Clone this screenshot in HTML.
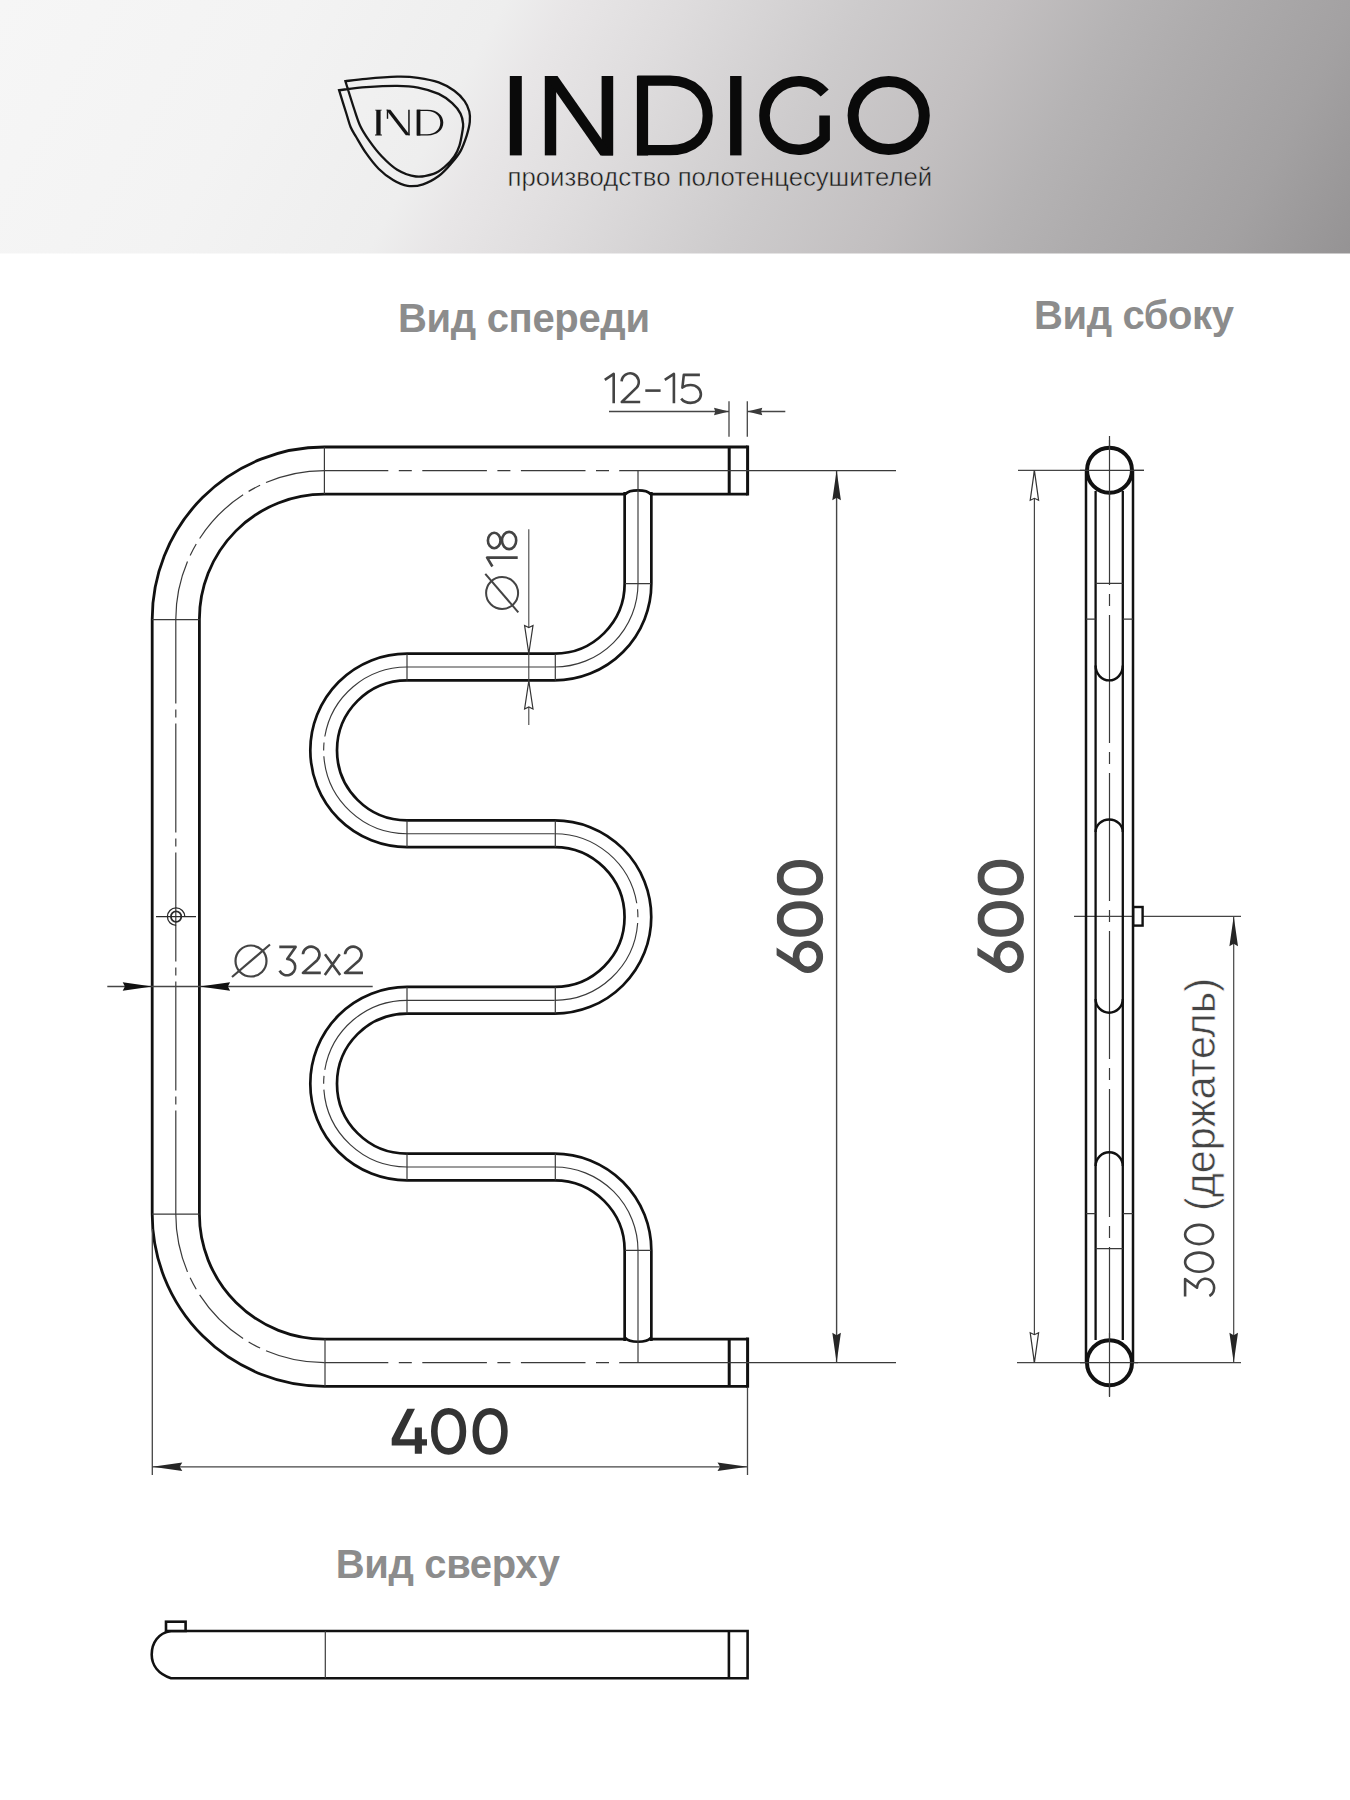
<!DOCTYPE html>
<html><head><meta charset="utf-8">
<style>
html,body{margin:0;padding:0;background:#fff;}
body{width:1350px;height:1800px;overflow:hidden;position:relative;font-family:"Liberation Sans",sans-serif;}
svg{position:absolute;left:0;top:0;display:block;}
</style></head>
<body>
<svg width="1350" height="1800" viewBox="0 0 1350 1800">
<defs>
<linearGradient id="hdr" gradientUnits="userSpaceOnUse" x1="0" y1="0" x2="1143.3" y2="628.8">
<stop offset="0" stop-color="#f6f6f6"/>
<stop offset="0.2" stop-color="#f3f3f3"/>
<stop offset="0.34" stop-color="#eeeeee"/>
<stop offset="0.383" stop-color="#e8e6e7"/>
<stop offset="0.463" stop-color="#dedcdd"/>
<stop offset="0.58" stop-color="#cdcbcc"/>
<stop offset="0.679" stop-color="#c2bfc0"/>
<stop offset="0.758" stop-color="#b5b3b4"/>
<stop offset="0.813" stop-color="#aeacad"/>
<stop offset="0.914" stop-color="#a3a1a2"/>
<stop offset="1" stop-color="#959394"/>
</linearGradient>
<linearGradient id="hdrv" x1="0" y1="0" x2="0" y2="1">
<stop offset="0" stop-color="#000" stop-opacity="0"/>
<stop offset="1" stop-color="#000" stop-opacity="0"/>
</linearGradient>
</defs>
<rect x="0" y="0" width="1350" height="253.5" fill="url(#hdr)"/>
<rect x="0" y="0" width="1350" height="253.5" fill="url(#hdrv)"/>

<g id="logo">
<g fill="none" stroke="#141414" stroke-width="2.3" stroke-linejoin="miter">
<path d="M345.4,81.2 C348.8,80.8 357.5,79.5 366.1,78.8 C374.7,78.0 388.6,76.9 397.2,76.7 C405.8,76.5 411.1,76.8 418.0,77.8 C424.9,78.8 432.6,80.2 438.7,82.4 C444.8,84.6 450.0,87.6 454.3,90.7 C458.6,93.8 462.1,97.6 464.6,101.1 C467.1,104.6 468.4,108.0 469.3,111.5 C470.2,115.0 470.2,117.9 469.8,121.9 C469.4,125.9 468.2,130.7 466.7,135.6 C465.1,140.5 463.1,146.4 460.5,151.1 C457.9,155.8 454.7,159.4 451.1,163.6 C447.5,167.8 443.4,172.6 438.7,176.0 C434.0,179.4 428.3,182.7 423.1,184.3 C417.9,186.0 412.6,186.6 407.6,185.9 C402.6,185.2 397.9,183.0 393.1,180.1 C388.3,177.2 383.1,173.2 378.6,168.7 C374.1,164.2 369.8,158.5 366.1,153.2 C362.4,147.9 358.8,141.4 356.2,137.0 C353.6,132.6 352.2,130.8 350.6,127.0 C349.0,123.2 348.4,120.1 346.5,114.0 C344.6,107.9 340.3,94.2 339.1,90.2 C343.6,89.7 356.4,87.8 366.1,87.1 C375.8,86.4 388.6,85.7 397.2,85.8 C405.8,85.9 411.1,86.2 418.0,87.6 C424.9,88.9 433.0,91.3 438.7,93.9 C444.4,96.5 448.6,99.9 452.2,103.2 C455.8,106.5 458.7,110.1 460.5,113.6 C462.3,117.0 462.8,120.8 463.1,123.9 C463.4,127.0 462.9,128.3 462.3,132.0 C461.7,135.7 460.7,141.8 459.4,145.9 C458.1,150.0 456.7,152.8 454.3,156.3 C451.9,159.8 448.4,163.8 444.9,166.7 C441.4,169.6 438.3,172.3 433.5,173.9 C428.7,175.5 421.9,177.2 415.9,176.5 C409.8,175.8 402.9,173.2 397.2,169.8 C391.5,166.4 386.4,161.2 381.7,156.3 C377.0,151.5 372.7,145.7 369.2,140.7 C365.7,135.7 362.9,131.6 360.5,126.5 C358.1,121.4 357.0,117.5 354.5,110.0 C352.0,102.5 346.9,86.0 345.4,81.2 Z"/>
</g>
<g fill="#151515">
<path d="M376.3,109.7 H380.6 V135.5 H376.3 Z M375.2,109.7 H381.7 V110.6 H375.2 Z M375.0,134.6 H381.9 V135.5 H375.0 Z"/>
<path d="M386.2,109.7 H390.4 L410.0,135.3 H405.8 Z"/>
<path d="M386.8,109.7 H388.2 V118.8 H386.8 Z"/>
<path d="M408.2,109.7 H409.7 V135.3 H408.2 Z"/>
<path d="M416.6,109.7 H420.4 V135.5 H416.6 Z"/>
<path fill-rule="evenodd" d="M417,109.7 H427.5 C437.8,109.7 443.3,115.8 443.3,122.6 C443.3,129.6 437.8,135.5 427.5,135.5 H417 Z M420,110.9 H427 C435.5,110.9 440.3,116 440.3,122.6 C440.3,129.3 435.5,134.3 427,134.3 H420 Z"/>
</g>
<g fill="#0a0a0a">
<rect x="509.8" y="76" width="12" height="79.4"/>
<rect x="544.8" y="76" width="11.4" height="79.4"/>
<rect x="601.6" y="76" width="11.6" height="79.4"/>
<polygon points="544.8,76 557.5,76 613.2,155.4 600.5,155.4"/>
<rect x="730.1" y="76" width="11.4" height="79.4"/>
</g>
<g fill="none" stroke="#0a0a0a">
<path d="M642.5,80.7 H670 C694,80.7 707.7,96 707.7,115.7 C707.7,136 694,150.2 670,150.2 H642.5 Z" stroke-width="10.2"/>
<path d="M642.5,76 V155.4" stroke-width="11.2"/>
<path d="M824.7,93 A34.3,34.3 0 1 0 824.6,138.1 V115.4" stroke-width="10.6" stroke-linejoin="miter"/>
<ellipse cx="888.7" cy="115.5" rx="35.6" ry="34" stroke-width="11"/>
</g>
<text x="507.6" y="186.1" font-family="Liberation Sans" font-size="26.5" fill="#1a1a1a" stroke="url(#hdr)" stroke-width="0.5" textLength="424.5" lengthAdjust="spacingAndGlyphs">производство полотенцесушителей</text>
</g>


<g font-family="Liberation Sans" font-weight="bold" fill="#8c8c8c">
<text x="398" y="332.2" font-size="40" textLength="252">Вид спереди</text>
<text x="1034" y="329.4" font-size="40" textLength="200">Вид сбоку</text>
<text x="335.7" y="1577.8" font-size="40" textLength="224.2">Вид сверху</text>
</g>

<g id="front">
<path d="M747.5,470.6 H324.4 A148.6,148.6 0 0 0 175.8,619.4 V1214.1 A148.6,148.6 0 0 0 324.4,1362.7 H747.5" fill="none" stroke="#111" stroke-width="50"/>
<path d="M747.5,470.6 H324.4 A148.6,148.6 0 0 0 175.8,619.4 V1214.1 A148.6,148.6 0 0 0 324.4,1362.7 H747.5" fill="none" stroke="#fff" stroke-width="44.4"/>
<path d="M638,492 V583.6 A83.4,83.4 0 0 1 554.6,667 H407 A83.35,83.35 0 0 0 407,833.7 H554.6 A83.3,83.3 0 0 1 554.6,1000.3 H407 A83.35,83.35 0 0 0 407,1167 H554.6 A83.4,83.4 0 0 1 638,1250.4 V1341" fill="none" stroke="#111" stroke-width="29.4"/>
<path d="M638,492 V583.6 A83.4,83.4 0 0 1 554.6,667 H407 A83.35,83.35 0 0 0 407,833.7 H554.6 A83.3,83.3 0 0 1 554.6,1000.3 H407 A83.35,83.35 0 0 0 407,1167 H554.6 A83.4,83.4 0 0 1 638,1250.4 V1341" fill="none" stroke="#fff" stroke-width="24"/>
<path d="M625.2,494.3 C627.5,491.5 631,490.4 638,490.4 C645,490.4 648.5,491.5 650.8,494.3" fill="none" stroke="#111" stroke-width="2.6"/>
<path d="M625.2,1337.9 C627.5,1340.7 631,1341.8 638,1341.8 C645,1341.8 648.5,1340.7 650.8,1337.9" fill="none" stroke="#111" stroke-width="2.6"/>
<path d="M729.2,447 V494.2 M747.6,445.5 V495.6 M729.2,1339 V1386.2 M747.6,1337.5 V1387.7" fill="none" stroke="#111" stroke-width="3"/>
<path d="M324.4,470.6 H620 M324.4,1362.7 H620" fill="none" stroke="#3a3a3a" stroke-width="1.2" stroke-dasharray="64.6 10.5 13 10.5" stroke-dashoffset="0.7"/>
<path d="M175.8,619.4 V1214.1" fill="none" stroke="#3a3a3a" stroke-width="1.2" stroke-dasharray="109 6 8 6" stroke-dashoffset="24.9"/>
<path d="M324.4,470.6 A148.6,148.6 0 0 0 175.8,619.4 M324.4,1362.7 A148.6,148.6 0 0 1 175.8,1214.1" fill="none" stroke="#3a3a3a" stroke-width="1.2" stroke-dasharray="60 6.5 13 6.5 62 6.5 13 6.5 80"/>
<path d="M619.5,470.6 H896 M619.5,1362.7 H896" fill="none" stroke="#3a3a3a" stroke-width="1.2"/>
<path d="M638,470.6 V492 M638,1341 V1362.7" fill="none" stroke="#3a3a3a" stroke-width="1.2"/>
<path d="M638,492 V583.6 M554.6,667 H407 M407,833.7 H554.6 M554.6,1000.3 H407 M407,1167 H554.6 M638,1250.4 V1341" fill="none" stroke="#3a3a3a" stroke-width="1.15"/>
<path d="M638,583.6 A83.4,83.4 0 0 1 554.6,667 M554.6,1167 A83.4,83.4 0 0 1 638,1250.4" fill="none" stroke="#3a3a3a" stroke-width="1.15"/>
<path d="M407,667 A83.35,83.35 0 0 0 407,833.7 M554.6,833.7 A83.3,83.3 0 0 1 554.6,1000.3 M407,1000.3 A83.35,83.35 0 0 0 407,1167" fill="none" stroke="#3a3a3a" stroke-width="1.15" stroke-dasharray="116.8 6 8 6 200"/>
<path d="M324.4,447.0 L324.4,494.0 M152.0,619.6 L199.5,619.6 M152.0,1214.1 L199.5,1214.1 M325.0,1339.0 L325.0,1386.5 M625.0,583.6 L651.0,583.6 M555.3,654.0 L555.3,680.4 M407.0,654.0 L407.0,680.4 M407.0,820.4 L407.0,847.0 M555.3,820.4 L555.3,847.0 M407.0,987.0 L407.0,1013.6 M555.3,987.0 L555.3,1013.6 M407.0,1153.6 L407.0,1180.3 M555.3,1153.6 L555.3,1180.3 M625.0,1250.4 L651.0,1250.4" fill="none" stroke="#3a3a3a" stroke-width="1.2"/>
<g fill="none" stroke="#2a2a2a"><path d="M176.1,925.3 A8.7,8.7 0 1 1 184.8,916.6" stroke-width="1.3"/><circle cx="176.1" cy="916.6" r="5.2" stroke-width="1.8"/><path d="M156,916.6 H196" stroke-width="1.3"/></g>
<path d="M729,401.3 V436.7 M747.3,401.3 V436.7 M609,411.5 H729 M747.3,411.5 H785.3" fill="none" stroke="#454545" stroke-width="1.3"/>
<path d="M729.0,411.5 L714.0,415.2 L715.2,411.5 L714.0,407.8 Z" fill="#3a3a3a"/>
<path d="M747.3,411.5 L762.3,407.8 L761.1,411.5 L762.3,415.2 Z" fill="#3a3a3a"/>
<path d="M836.6,470.6 V1362.7" fill="none" stroke="#454545" stroke-width="1.4"/>
<path d="M836.6,470.3 L840.9,500.3 L836.6,497.7 L832.3,500.3 Z" fill="#262626"/>
<path d="M836.6,1362.7 L832.3,1332.7 L836.6,1335.3 L840.9,1332.7 Z" fill="#262626"/>
<path d="M107.3,986.5 H372.7" fill="none" stroke="#454545" stroke-width="1.3"/>
<path d="M152.2,986.5 L122.7,990.7 L124.9,986.5 L122.7,982.3 Z" fill="#111"/>
<path d="M199.6,986.5 L230.1,982.3 L227.9,986.5 L230.1,990.7 Z" fill="#111"/>
<path d="M528.8,529.3 V725" fill="none" stroke="#454545" stroke-width="1.1"/>
<path d="M528.8,653.5 L524.6,625.5 L528.8,627.5 L533.0,625.5 Z" fill="#fff" stroke="#333" stroke-width="1.2" stroke-linejoin="miter"/>
<path d="M528.8,681.0 L533.0,709.0 L528.8,707.0 L524.6,709.0 Z" fill="#fff" stroke="#333" stroke-width="1.2" stroke-linejoin="miter"/>
<path d="M152.3,1229 V1475 M747.5,1388 V1475 M152.3,1466.8 H747.5" fill="none" stroke="#454545" stroke-width="1.3"/>
<path d="M152.3,1466.8 L182.3,1462.5 L179.7,1466.8 L182.3,1471.1 Z" fill="#262626"/>
<path d="M747.5,1466.8 L717.5,1471.1 L720.1,1466.8 L717.5,1462.5 Z" fill="#262626"/>
<g fill="none" stroke="#444" stroke-width="2.6" stroke-linejoin="round">
<path d="M604.8,379.8 L613.7,373.9 V403.3"/>
<path d="M621.6,381.3 A8.6,8.6 0 1 1 636.6,387.6 L621.8,402 H640.2"/>
<path d="M645.3,390.6 H660.6"/>
<path d="M664.8,379.8 L673.9,373.9 V403.3"/>
<path d="M699.9,374.9 H683.8 L682.4,387.6 C684.6,385.8 687.6,385 690.6,385 C696.6,385 700.9,389.2 700.9,394.3 C700.9,399.6 696.6,402.9 690.6,402.9 C686.6,402.9 683.2,401.2 681.2,398.6"/>
<path d="M279.3,946.9 H295.6 L287.2,958.9 A8.2,8.2 0 1 1 279.6,970.6"/>
<path d="M302.9,954.3 A8.3,8 0 1 1 317.2,960.2 L302.9,972.9 H320.8"/>
<path d="M325,954.3 L340.2,974.9 M339.8,954.3 L324.8,974.9"/>
<path d="M345,954.3 A8.3,8 0 1 1 359.3,960.2 L345,972.9 H363"/>
<g transform="translate(517.7,571.5) rotate(-90)"><path d="M5,-25.3 L13.9,-30.6 V0"/><ellipse cx="31" cy="-8.6" rx="8.6" ry="7.1"/><ellipse cx="31" cy="-23.5" rx="7.7" ry="6.3"/></g>
</g>
<path d="M407.2,1408.7 L415,1408.7 L399.8,1439.3 L414.8,1439.3 L414.8,1427.4 L421.9,1427.4 L421.9,1439.3 L427,1439.3 L427,1445.6 L421.9,1445.6 L421.9,1453.7 L414.8,1453.7 L414.8,1445.6 L391.7,1445.6 L391.7,1438.5 Z" fill="#333"/>
<g fill="none" stroke="#333" stroke-width="6.6" stroke-linejoin="round"><path d="M462.90,1431.30 C462.90,1443.56 457.32,1451.40 448.60,1451.40 C439.88,1451.40 434.30,1443.56 434.30,1431.30 C434.30,1419.04 439.88,1411.20 448.60,1411.20 C457.32,1411.20 462.90,1419.04 462.90,1431.30 Z"/><path d="M504.40,1431.30 C504.40,1443.56 498.82,1451.40 490.10,1451.40 C481.38,1451.40 475.80,1443.56 475.80,1431.30 C475.80,1419.04 481.38,1411.20 490.10,1411.20 C498.82,1411.20 504.40,1419.04 504.40,1431.30 Z"/></g>
<g transform="translate(823,973) rotate(-90)"><clipPath id="c823"><rect x="-5" y="-46.4" width="130" height="60"/></clipPath><g fill="none" stroke="#4a4a4a" stroke-width="7" stroke-linejoin="round" clip-path="url(#c823)"><ellipse cx="16.1" cy="-15.1" rx="12.8" ry="11.9" stroke-width="6.6"/><path d="M24.53,-51.26 L5.69,-21.74" stroke-width="6.6"/><path d="M68.30,-23.10 C68.30,-11.02 62.72,-3.30 54.00,-3.30 C45.28,-3.30 39.70,-11.02 39.70,-23.10 C39.70,-35.18 45.28,-42.90 54.00,-42.90 C62.72,-42.90 68.30,-35.18 68.30,-23.10 Z"/><path d="M109.60,-23.10 C109.60,-11.02 104.02,-3.30 95.30,-3.30 C86.58,-3.30 81.00,-11.02 81.00,-23.10 C81.00,-35.18 86.58,-42.90 95.30,-42.90 C104.02,-42.90 109.60,-35.18 109.60,-23.10 Z"/></g></g>
<g fill="none" stroke="#444" stroke-width="2.2"><circle cx="251" cy="961" r="15.5"/><path d="M232,977 L270,944.5"/></g>
<g fill="none" stroke="#444" stroke-width="2.0"><circle cx="502.1" cy="593" r="16"/><path d="M485.3,573.8 L518.3,612.3"/></g>
</g>
<g id="side">
<path d="M1109.5,435 V1397" fill="none" stroke="#3a3a3a" stroke-width="1.2" stroke-dasharray="128 9 12 9" stroke-dashoffset="136"/>
<path d="M1018,470.3 H1144 M1017,1362.7 H1241 M1074,916.3 H1241" fill="none" stroke="#454545" stroke-width="1.2"/>
<path d="M1086,470.3 V1362.7 M1133,470.3 V1362.7" fill="none" stroke="#111" stroke-width="2.5"/>
<path d="M1095.6,491 V1340 M1122.8,491 V1340" fill="none" stroke="#111" stroke-width="2.3"/>
<path d="M1095.6,665.6 A13.6,14.8 0 0 0 1122.8,665.6 M1095.6,832 A13.6,12.5 0 0 1 1122.8,832 M1095.6,999 A13.6,13.7 0 0 0 1122.8,999 M1095.6,1166 A13.6,13.7 0 0 1 1122.8,1166" fill="none" stroke="#111" stroke-width="2.4"/>
<circle cx="1109.5" cy="470.3" r="22.5" fill="#fff" stroke="#111" stroke-width="4"/>
<circle cx="1109.5" cy="1362.7" r="22.5" fill="#fff" stroke="#111" stroke-width="4"/>
<path d="M1109.5,440 V500 M1080,470.3 H1144 M1109.5,1333 V1397 M1080,1362.7 H1138" fill="none" stroke="#3a3a3a" stroke-width="1.2"/>
<path d="M1095.6,583.3 H1122.8 M1086,619.1 H1095.6 M1122.8,619.1 H1133 M1086,1213.6 H1095.6 M1122.8,1213.6 H1133 M1095.6,1248.7 H1122.8" fill="none" stroke="#3a3a3a" stroke-width="1.3"/>
<rect x="1133.3" y="907" width="9.3" height="18.6" fill="#fff" stroke="#111" stroke-width="2.4"/>
<path d="M1034.4,470.3 V1362.7 M1233.7,916.3 V1362.7" fill="none" stroke="#454545" stroke-width="1.2"/>
<path d="M1034.4,470.3 L1038.6,500.3 L1034.4,498.3 L1030.2,500.3 Z" fill="#fff" stroke="#333" stroke-width="1.2" stroke-linejoin="miter"/>
<path d="M1034.4,1362.7 L1030.2,1332.7 L1034.4,1334.7 L1038.6,1332.7 Z" fill="#fff" stroke="#333" stroke-width="1.2" stroke-linejoin="miter"/>
<path d="M1233.7,916.3 L1238.0,946.3 L1233.7,943.7 L1229.4,946.3 Z" fill="#262626"/>
<path d="M1233.7,1362.7 L1229.4,1332.7 L1233.7,1335.3 L1238.0,1332.7 Z" fill="#262626"/>
<g transform="translate(1023.8,972.9) rotate(-90)"><clipPath id="c1023"><rect x="-5" y="-46.4" width="130" height="60"/></clipPath><g fill="none" stroke="#4d4d4d" stroke-width="7" stroke-linejoin="round" clip-path="url(#c1023)"><ellipse cx="16.1" cy="-15.1" rx="12.8" ry="11.9" stroke-width="6.6"/><path d="M24.53,-51.26 L5.69,-21.74" stroke-width="6.6"/><path d="M68.30,-23.10 C68.30,-11.02 62.72,-3.30 54.00,-3.30 C45.28,-3.30 39.70,-11.02 39.70,-23.10 C39.70,-35.18 45.28,-42.90 54.00,-42.90 C62.72,-42.90 68.30,-35.18 68.30,-23.10 Z"/><path d="M109.60,-23.10 C109.60,-11.02 104.02,-3.30 95.30,-3.30 C86.58,-3.30 81.00,-11.02 81.00,-23.10 C81.00,-35.18 86.58,-42.90 95.30,-42.90 C104.02,-42.90 109.60,-35.18 109.60,-23.10 Z"/></g></g>
<g transform="translate(1214.4,1298) rotate(-90)" fill="none" stroke="#444" stroke-width="2.6" stroke-linejoin="round"><path d="M1.5,-29.3 H19 L10.3,-17.4 A9.1,8.6 0 1 1 2,-5"/><ellipse cx="35.8" cy="-15.3" rx="9.6" ry="14"/><ellipse cx="63.5" cy="-15.3" rx="9.6" ry="14"/></g>
<g font-family="Liberation Sans" fill="#444" stroke="#fff" stroke-width="0.6">
<text transform="translate(1215,1211) rotate(-90)" x="0" y="0" font-size="43" textLength="233" lengthAdjust="spacingAndGlyphs">(держатель)</text>
</g>
</g>
<g id="top">
<path d="M171,1631 H747.6 V1678.2 H171 C158,1674 151.7,1665 151.7,1654.6 C151.7,1643 158,1633 171,1631 Z" fill="none" stroke="#111" stroke-width="2.6"/>
<path d="M728.9,1631 V1678.2" fill="none" stroke="#111" stroke-width="2.6"/>
<path d="M325.3,1631 V1678.2" fill="none" stroke="#3a3a3a" stroke-width="1.2"/>
<rect x="166" y="1621.7" width="19.6" height="9.3" fill="#fff" stroke="#111" stroke-width="2.6"/>
</g>
</svg>
</body></html>
